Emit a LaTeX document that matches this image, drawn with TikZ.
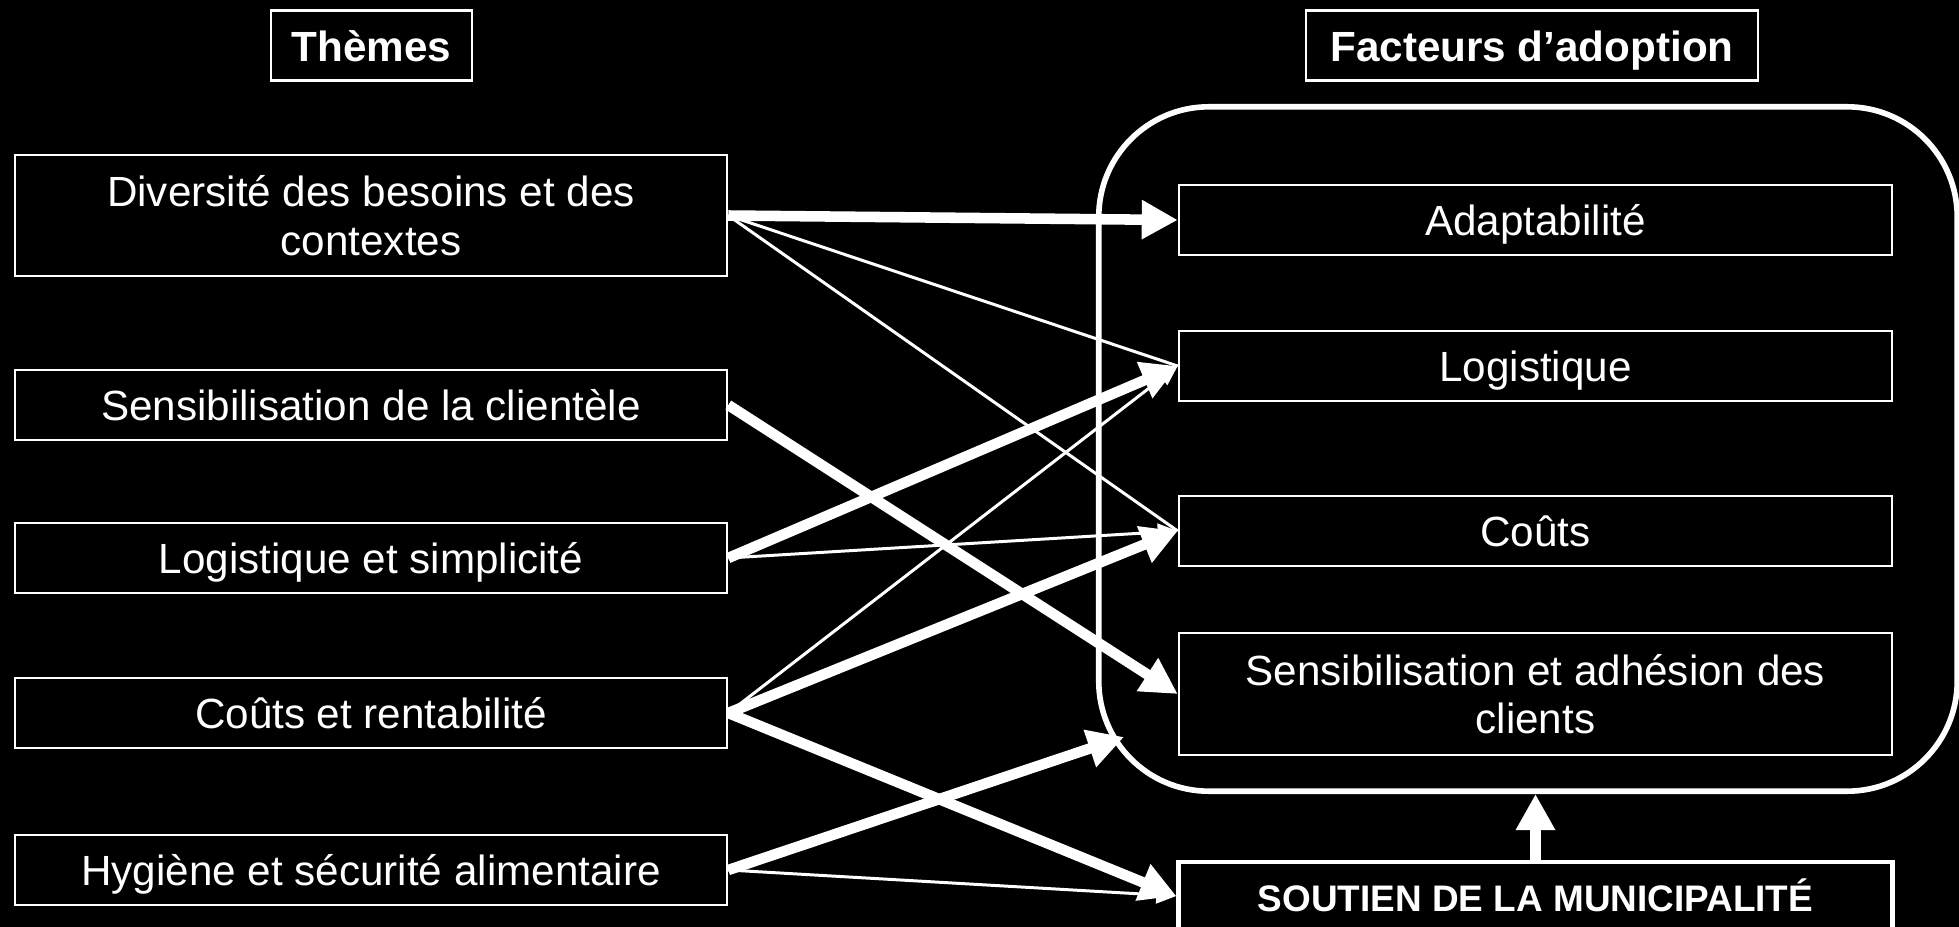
\documentclass[tikz,border=0pt]{standalone}
\usepackage{fontspec}
\setmainfont{Liberation Sans}
\usetikzlibrary{arrows.meta}

\begin{document}
\begin{tikzpicture}[x=0.01cm,y=-0.01cm,
    strong/.style={-{Triangle[length=0.36cm,width=0.37cm]},white,line width=3pt},
    weak/.style={-{Triangle[length=0.2cm,width=0.17cm]},white,line width=0.85pt},
    bare/.style={-,white,line width=0.85pt},
    oneline/.style={text height=9pt,text depth=0pt}]
    \fill [black] (0,0) rectangle (1959,927);
    \useasboundingbox (0,0) rectangle (1959,927);

    \node [draw=white,line width=1.6pt,rounded corners=1.1cm,minimum width=8.58cm,minimum height=6.84cm] (frame) at (1528,449) {};
    \coordinate (frameHit) at (1124,737);

    \begin{scope}[every node/.style={draw=white,line width=0.6pt,text=white,align=center,inner sep=0pt,minimum height=0.7cm,font=\fontsize{12}{13.8}\selectfont}]
        \node [oneline,minimum width=2.01cm,font=\fontsize{12}{13.8}\selectfont\bfseries] (themes) at (371.5,45.5) {Thèmes};
        \node [oneline,minimum width=4.52cm,font=\fontsize{12}{13.8}\selectfont\bfseries] (facteurs) at (1532,45.5) {Facteurs d’adoption};

        \node [minimum width=7.12cm,minimum height=1.21cm] (tDiv) at (371,215.5) {Diversité des besoins et des\\contextes};
        \node [oneline,minimum width=7.12cm] (tSens) at (371,405) {Sensibilisation de la clientèle};
        \node [oneline,minimum width=7.12cm] (tLog) at (371,558) {Logistique et simplicité};
        \node [oneline,minimum width=7.12cm] (tCout) at (371,713) {Coûts et rentabilité};
        \node [oneline,minimum width=7.12cm] (tHyg) at (371,870) {Hygiène et sécurité alimentaire};

        \node [oneline,minimum width=7.13cm] (fAdapt) at (1535.5,220) {Adaptabilité};
        \node [oneline,minimum width=7.13cm] (fLog) at (1535.5,366) {Logistique};
        \node [oneline,minimum width=7.13cm] (fCout) at (1535.5,531) {Coûts};
        \node [minimum width=7.13cm,minimum height=1.22cm] (fSens) at (1535.5,694) {Sensibilisation et adhésion des\\clients};
        \node [oneline,minimum width=7.13cm,minimum height=0.68cm,line width=1.4pt,font=\fontsize{10.5}{12}\selectfont\bfseries] (fSout) at (1535.5,896) {SOUTIEN DE LA MUNICIPALITÉ};
    \end{scope}

    \begin{scope}
        \path [strong] (tDiv.east) edge (fAdapt.west);
        \path [bare] (tDiv.east) edge (fLog.west);
        \path [bare] (tDiv.east) edge (fCout.west);
        \path [strong] (tSens.east) edge (fSens.west);
        \path [strong] (tLog.east) edge (fLog.west);
        \path [weak] (tLog.east) edge (fCout.west);
        \path [weak] (tCout.east) edge (fLog.west);
        \path [strong] (tCout.east) edge (fCout.west);
        \path [strong] (tCout.east) edge (fSout.west);
        \path [strong] (tHyg.east) edge (frameHit);
        \path [weak] (tHyg.east) edge (fSout.west);
        \path [strong] (fSout.north) edge (fSout.north |- frame.south);
    \end{scope}
\end{tikzpicture}
\end{document}
